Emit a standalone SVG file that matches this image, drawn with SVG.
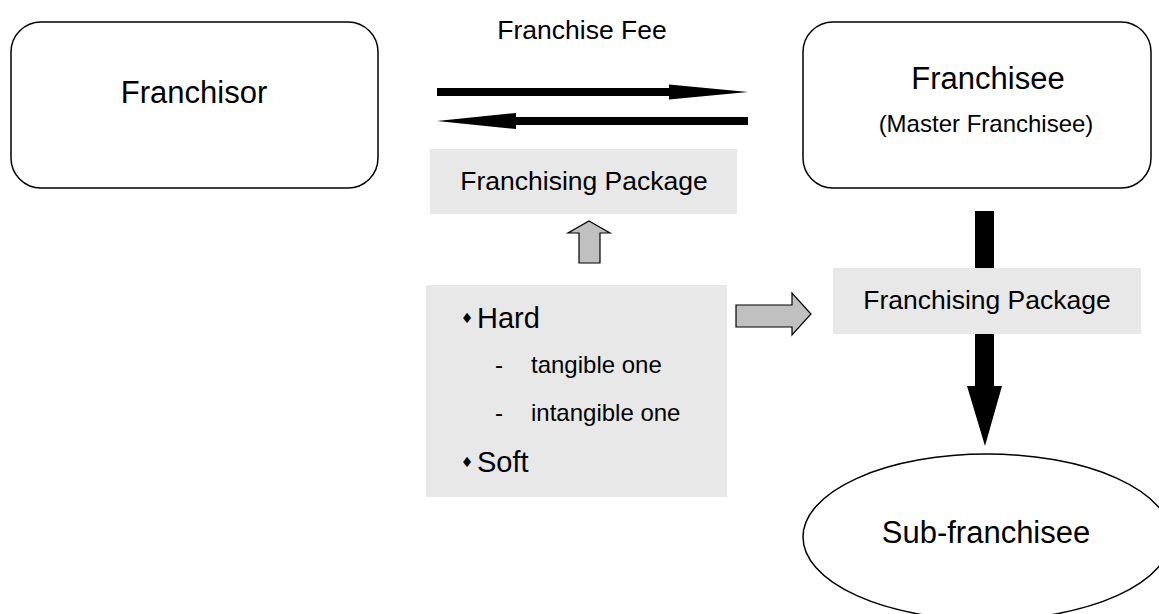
<svg xmlns="http://www.w3.org/2000/svg" width="1159" height="614" viewBox="0 0 1159 614">
<style>
text{font-family:"Liberation Sans",Arial,sans-serif;fill:#000}
.box{fill:#fff;stroke:#000;stroke-width:1.5}
.pkg{fill:#e8e8e8;stroke:none}
.big{font-size:31px}
.mid{font-size:26.5px}
.sm{font-size:24px}
.blk{fill:#000;stroke:none}
.gry{fill:#c0c0c0;stroke:#000;stroke-width:1.2}
.bul{font-family:"DejaVu Sans",sans-serif;font-size:14px}
</style>
<rect width="1159" height="614" fill="#fff"/>
<g id="connectors">
<polygon class="blk" points="437,88 669,88 669,84.5 748,92 669,99.5 669,96 437,96"/>
<polygon class="blk" points="748,117 516,117 516,113 437,121 516,129 516,125 748,125"/>
<polygon class="gry" points="589,221 610,233 600,233 600,263 579,263 579,233 568,233"/>
<polygon class="gry" points="736,305 792,305 792,293 811,314 792,335 792,327 736,327"/>
<polygon class="blk" points="975,211 994,211 994,386 1002,386 985,446 967,386 975,386"/>
</g>
<g id="fee-label">
<text class="mid" x="582" y="39" text-anchor="middle">Franchise Fee</text>
</g>
<g id="franchisor">
<rect class="box" x="11" y="22" width="367" height="166" rx="30"/>
<text class="big" x="194" y="103" text-anchor="middle">Franchisor</text>
</g>
<g id="franchisee">
<rect class="box" x="803" y="22" width="348" height="166" rx="30"/>
<text class="big" x="988" y="89" text-anchor="middle">Franchisee</text>
<text class="sm" x="986" y="132" text-anchor="middle">(Master Franchisee)</text>
</g>
<g id="package1">
<rect class="pkg" x="430" y="149" width="307" height="65"/>
<text class="mid" x="584" y="190" text-anchor="middle">Franchising Package</text>
</g>
<g id="contents">
<rect class="pkg" x="426" y="285" width="301" height="212"/>
<text class="bul" x="467" y="323" text-anchor="middle">♦</text>
<text x="477" y="328" font-size="29px">Hard</text>
<text class="sm" x="495" y="373">-</text>
<text class="sm" x="531" y="373">tangible one</text>
<text class="sm" x="495" y="421">-</text>
<text class="sm" x="531" y="421">intangible one</text>
<text class="bul" x="467" y="467" text-anchor="middle">♦</text>
<text x="477" y="472" font-size="29px">Soft</text>
</g>
<g id="package2">
<rect class="pkg" x="833" y="268" width="308" height="66"/>
<text class="mid" x="987" y="309" text-anchor="middle">Franchising Package</text>
</g>
<g id="subfranchisee">
<ellipse cx="987" cy="537" rx="184" ry="83" fill="#fff" stroke="#000" stroke-width="1.5"/>
<text class="big" x="986" y="543" text-anchor="middle">Sub-franchisee</text>
</g>
</svg>
